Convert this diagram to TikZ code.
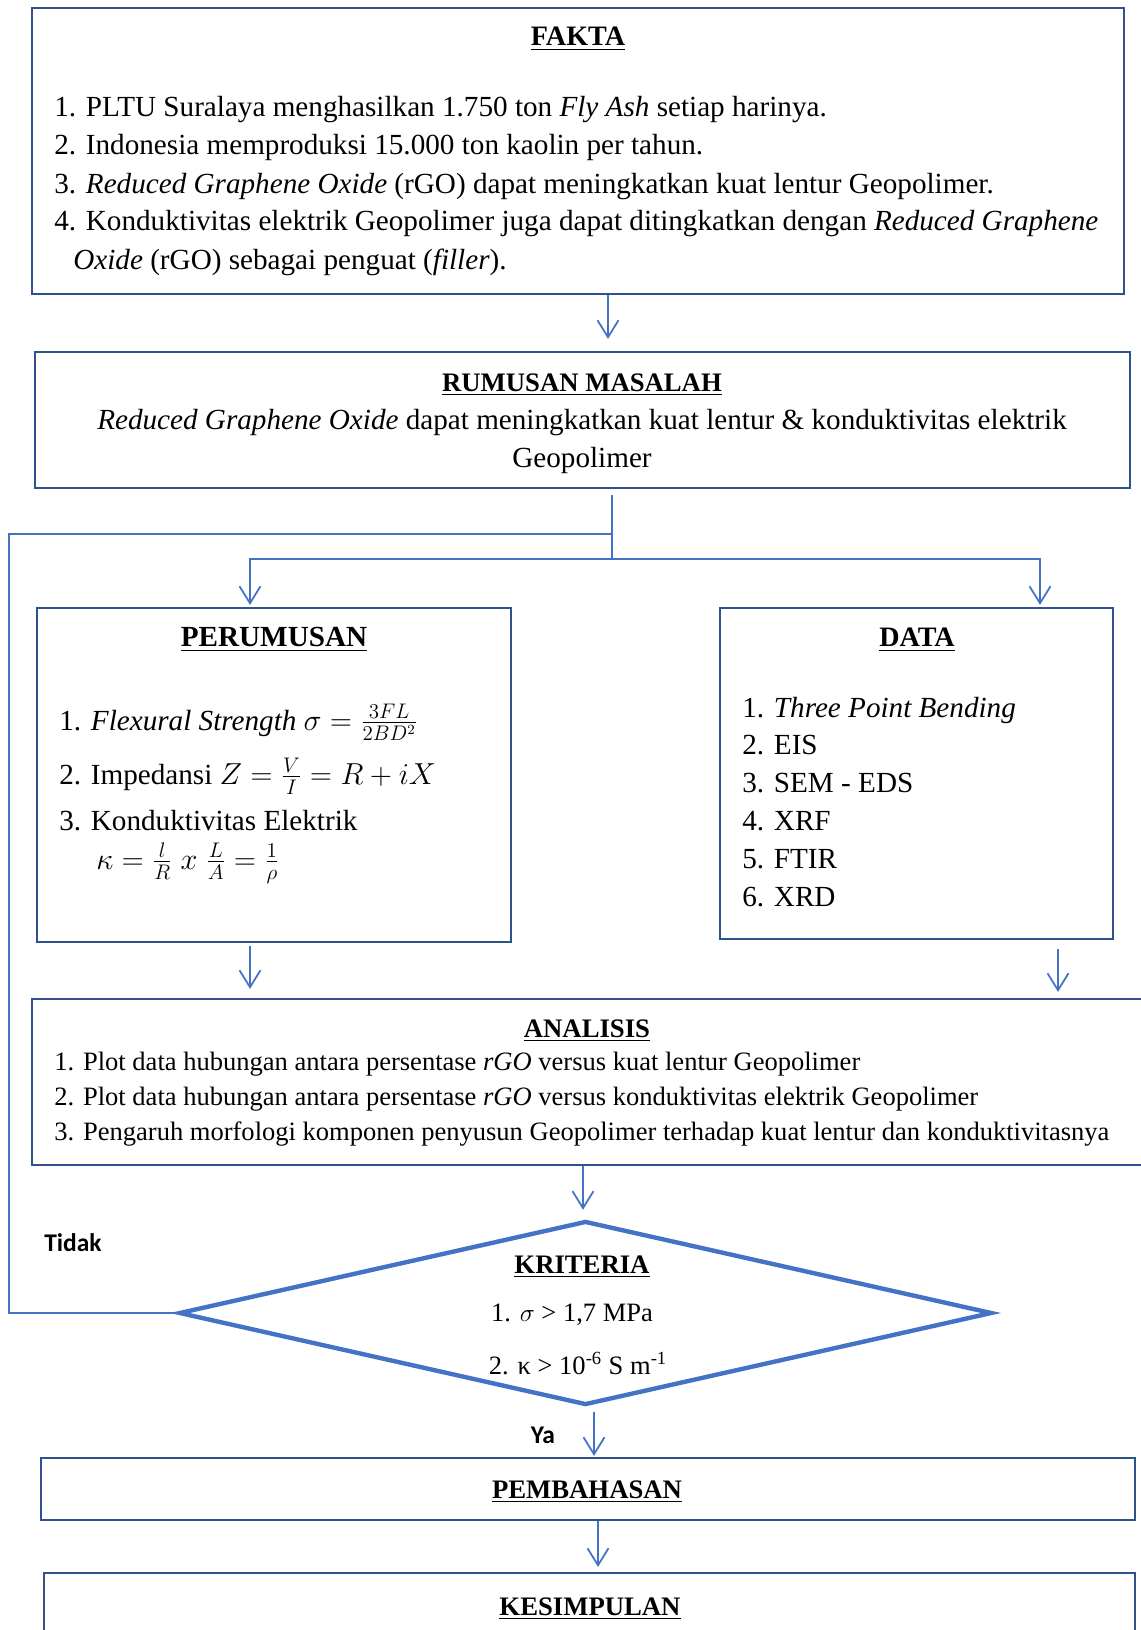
\documentclass[tikz,border=0pt]{standalone}
\usepackage{fontspec}
\setmainfont{Liberation Serif}
\newfontfamily\labelfont{Carlito}
\usepackage{amsmath}
\usepackage{tikz}
\usetikzlibrary{arrows.meta,shapes.geometric,calc}
\definecolor{boxblue}{HTML}{2F528F}
\definecolor{lineblue}{HTML}{4472C4}

\begin{document}
\begin{tikzpicture}[x=0.02cm, y=-0.02cm,
    box/.style={draw=boxblue, line width=1.25pt, inner sep=0pt},
    arr/.style={draw=lineblue, line width=1pt, -{Straight Barb[length=0.34cm,width=0.42cm]}},
    link/.style={draw=lineblue, line width=1pt},
    title/.style={font=\fontsize{15.2}{18}\selectfont\bfseries, anchor=base, inner sep=0pt},
    txt/.style={font=\fontsize{16.6}{20}\selectfont, anchor=base west, inner sep=0pt},
    small/.style={font=\fontsize{15.1}{18}\selectfont, anchor=base west, inner sep=0pt},
    say/.style={font=\labelfont\bfseries\fontsize{14.5}{17}\selectfont, inner sep=0pt}]
    \def\px{0.02cm}
    \useasboundingbox (0,0) rectangle (1140,1630);

    % Fakta
    \node[box, minimum width=1092*\px, minimum height=286*\px] (fakta) at (578,151) {};
    \node[title, font=\fontsize{16}{19}\selectfont\bfseries] (fakta-t) at (578,45) {\underline{FAKTA}};
    \foreach \y/\t [count=\i] in {116/{1. PLTU Suralaya menghasilkan 1.750 ton \textit{Fly Ash} setiap harinya.},
        154/{2. Indonesia memproduksi 15.000 ton kaolin per tahun.},
        193/{3. \textit{Reduced Graphene Oxide} (rGO) dapat meningkatkan kuat lentur Geopolimer.},
        230/{4. Konduktivitas elektrik Geopolimer juga dapat ditingkatkan dengan \textit{Reduced Graphene}}}
        \node[txt] (fakta-\i) at (54,\y) {\t};
    \node[txt] (fakta-5) at (73,269) {\textit{Oxide} (rGO) sebagai penguat (\textit{filler}).};

    % Rumusan masalah
    \node[box, minimum width=1095*\px, minimum height=136*\px] (rumusan) at (582.5,420) {};
    \node[title] (rumusan-t) at (582,391) {\underline{RUMUSAN MASALAH}};
    \node[txt, anchor=base] (rumusan-1) at (582,429) {\textit{Reduced Graphene Oxide} dapat meningkatkan kuat lentur \& konduktivitas elektrik};
    \node[txt, anchor=base] (rumusan-2) at (582,467) {Geopolimer};

    % Perumusan
    \node[box, minimum width=474*\px, minimum height=334*\px] (perumusan) at (274,775) {};
    \node[title, font=\fontsize{16.6}{20}\selectfont\bfseries] (perumusan-t) at (274,646) {\underline{PERUMUSAN}};
    \node[txt] (perumusan-1) at (59,730) {1. \textit{Flexural Strength} $\sigma = \frac{3FL}{2BD^2}$};
    \node[txt] (perumusan-2) at (59,784) {2. Impedansi $Z = \frac{V}{I} = R + iX$};
    \node[txt] (perumusan-3) at (59,830) {3. Konduktivitas Elektrik};
    \node[txt] (perumusan-4) at (96,869) {$\kappa = \frac{l}{R}\; x\; \frac{L}{A} = \frac{1}{\rho}$};

    % Data
    \node[box, minimum width=393*\px, minimum height=331*\px] (data) at (916.5,773.5) {};
    \node[title, font=\fontsize{16}{19}\selectfont\bfseries] (data-t) at (917,646) {\underline{DATA}};
    \foreach \t [count=\i] in {1. \textit{Three Point Bending}, 2. EIS, 3. SEM - EDS, 4. XRF, 5. FTIR, 6. XRD}
        \node[txt] (data-\i) at (742,717+37.8*\i-37.8) {\t};

    % Analisis
    \node[box, minimum width=1128*\px, minimum height=166*\px] (analisis) at (596,1082) {};
    \node[title] (analisis-t) at (587,1037) {\underline{ANALISIS}};
    \node[small] (analisis-1) at (54,1070) {1. Plot data hubungan antara persentase \textit{rGO} versus kuat lentur Geopolimer};
    \node[small] (analisis-2) at (54,1105) {2. Plot data hubungan antara persentase \textit{rGO} versus konduktivitas elektrik Geopolimer};
    \node[small] (analisis-3) at (54,1140) {3. Pengaruh morfologi komponen penyusun Geopolimer terhadap kuat lentur dan konduktivitasnya};

    % Kriteria
    \node[diamond, draw=lineblue, line width=2.5pt, minimum width=813*\px, minimum height=184*\px, inner sep=0pt] (kriteria) at (585.5,1313) {};
    \node[title] (kriteria-t) at (582,1273) {\underline{KRITERIA}};
    \node[small, anchor=base] (kriteria-1) at (572,1321) {1. $\sigma$ > 1,7 MPa};
    \node[small, anchor=base] (kriteria-2) at (578,1374) {2. κ > 10\textsuperscript{-6} S m\textsuperscript{-1}};

    % Pembahasan, kesimpulan
    \node[box, minimum width=1094*\px, minimum height=62*\px] (pembahasan) at (588,1489) {};
    \node[title] (pembahasan-t) at (587,1498) {\underline{PEMBAHASAN}};
    \node[box, minimum width=1091*\px, minimum height=127*\px] (kesimpulan) at (589.5,1636.5) {};
    \node[title] (kesimpulan-t) at (590,1615) {\underline{KESIMPULAN}};

    \node[say] (tidak) at (73,1243) {Tidak};
    \node[say] (ya) at (543,1435) {Ya};

    % connectors
    \coordinate (split) at (612,559);
    \coordinate (joinL) at (612,534);
    \coordinate (back) at (9,1313);
    \draw[arr] ($(fakta.south)+(30,0)$) -- ($(rumusan.north)+(25.5,-12)$);
    \draw[link] ($(rumusan.south)+(29.5,6)$) -- (split);
    \draw[arr] (split) -| ($(perumusan.north)+(-24,-2)$);
    \draw[arr] (split) -| ($(data.north)+(123.5,-2)$);
    \draw[arr] ($(perumusan.south)+(-24,3)$) -- ($(analisis.north)+(-346,-9)$);
    \draw[arr] ($(data.south)+(141.5,9)$) -- ($(analisis.north)+(462,-6)$);
    \draw[arr] ($(analisis.south)+(-13,0)$) -- ($(kriteria.north)+(-2.5,-9)$);
    \draw[arr] ($(kriteria.south)+(8.5,5)$) -- ($(pembahasan.north)+(6,-1)$);
    \draw[arr] ($(pembahasan.south)+(10,0)$) -- ($(kesimpulan.north)+(8.5,-5)$);
    \draw[link] (kriteria.west) -- (back) |- (joinL);
\end{tikzpicture}
\end{document}
